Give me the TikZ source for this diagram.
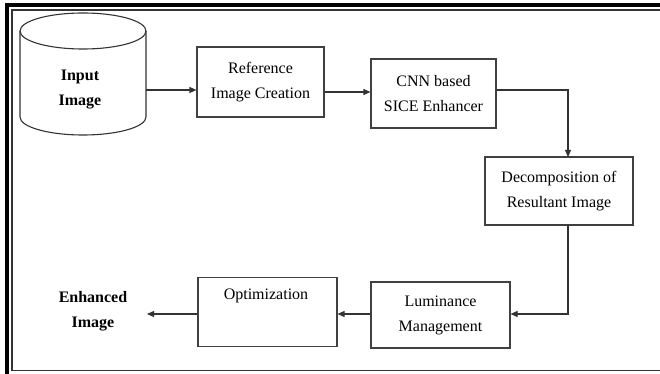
\documentclass[tikz,border=0pt]{standalone}
\usepackage{fontspec}
\setmainfont{Liberation Serif}
\usetikzlibrary{arrows.meta}
\begin{document}
\begin{tikzpicture}[x=1pt,y=-1pt,
  box/.style={draw=black!75,line width=1.1pt,rectangle,inner sep=0pt,font=\fontsize{16}{25}\selectfont,align=center},
  conn/.style={draw=black!80,line width=1.1pt,-{Triangle[length=7pt,width=6pt]}},
  boldlbl/.style={font=\fontsize{16}{25}\selectfont\bfseries,align=center,inner sep=0pt}]
\useasboundingbox (0,0) rectangle (660,374);
% frame
\draw[line width=4pt,black] (7,374) -- (7,5.3) -- (660,5.3);
\draw[line width=1.5pt,black!80] (660,10) -- (12,10) -- (12,370.5) -- (660,370.5);
% cylinder
\draw[line width=1.1pt,draw=black!80,fill=white]
  (20,31) -- (20,117) arc[start angle=180,end angle=0,x radius=63,y radius=18] -- (146,31);
\draw[line width=1.1pt,draw=black!80] (83,31) ellipse[x radius=63,y radius=18];
\node[boldlbl] (input) at (80,90) {Input\\Image};
\coordinate (cylR) at (146,90);
% boxes
\node[box,minimum width=127pt,minimum height=70pt] (ref) at (260.5,82) {Reference\\Image Creation};
\node[box,minimum width=125pt,minimum height=69pt] (cnn) at (433.5,93.5) {CNN based\\SICE Enhancer};
\node[box,minimum width=148pt,minimum height=68pt] (dec) at (559,191) {Decomposition of\\Resultant Image};
\node[box,minimum width=139pt,minimum height=66pt] (lum) at (440.5,315) {Luminance\\Management};
\node[box,minimum width=139pt,minimum height=69pt,anchor=north] (opt) at (267.5,277) {};
\node[font=\fontsize{16}{25}\selectfont,inner sep=0pt] (opttxt) at (266,296) {Optimization};
\node[boldlbl] (enh) at (93,311) {Enhanced\\Image};
\coordinate (enhR) at (147,314);
% connectors
\draw[conn] (cylR) -- (ref.west |- cylR);
\draw[conn] (ref.east |- 0,92) -- (cnn.west |- 0,92);
\draw[conn] (cnn.east |- 0,90) -- (568,90) -- (568,157);
\draw[conn] (568,225) -- (568,314) -- (lum.east |- 0,314);
\draw[conn] (lum.west |- 0,314) -- (opt.east |- 0,314);
\draw[conn] (opt.west |- 0,314) -- (enhR);
\end{tikzpicture}
\end{document}
